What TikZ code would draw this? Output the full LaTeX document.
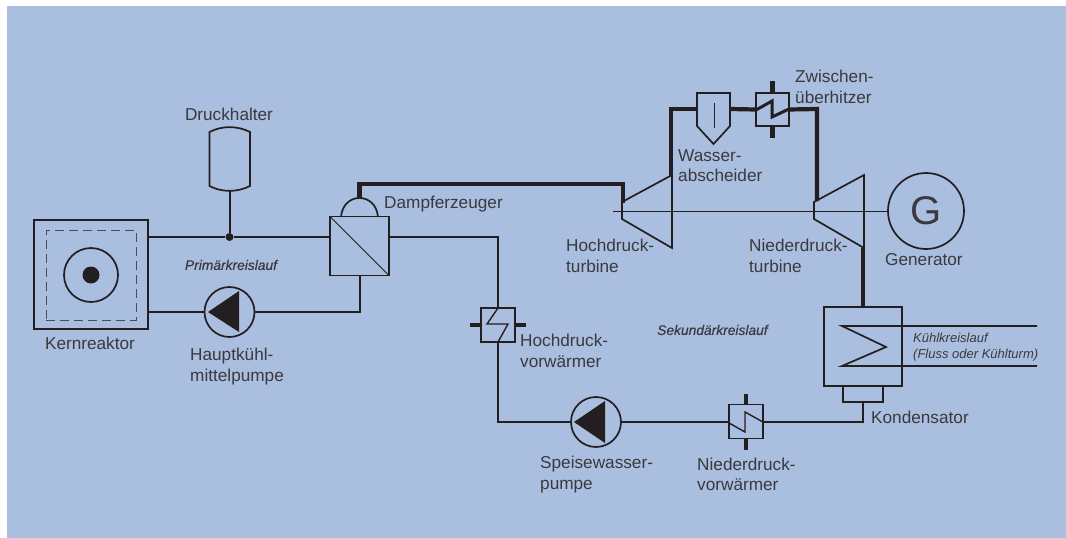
\documentclass[tikz,border=0pt]{standalone}
\usepackage{fontspec}
\setmainfont{Liberation Sans}
\definecolor{bgblue}{HTML}{AABEE0}
\definecolor{ink}{HTML}{231F20}
\definecolor{txt}{HTML}{3A3A3C}
\tikzset{
  line/.style={draw=ink,line width=1.7pt},
  heavy/.style={draw=ink,line width=4.2pt},
  fine/.style={draw=ink,line width=1pt},
  box/.style={draw=ink,line width=1.7pt,rectangle,inner sep=0pt,outer sep=0pt},
  disc/.style={draw=ink,line width=1.7pt,circle,inner sep=0pt,outer sep=0pt},
  lab/.style={text=txt,font=\fontsize{17.2}{20.6}\selectfont,align=left,anchor=west,inner sep=0pt},
  note/.style={text=txt,font=\fontsize{13}{16}\selectfont\itshape,align=left,anchor=west,inner sep=0pt},
  notebold/.style={note,font=\fontsize{13.8}{16}\selectfont\itshape\addfontfeature{FakeBold=0.3}},
}
\begin{document}
\begin{tikzpicture}[x=1pt,y=-1pt]
\useasboundingbox (0,0) rectangle (1066,538);
\fill[white] (0,0) rectangle (1066,538);
\fill[bgblue] (7,6) rectangle (1066,538);

% --- component nodes
\node[box,minimum width=114pt,minimum height=109pt] (reactor) at (91,274.5) {};
\node[box,draw=ink!80,line width=1pt,dash pattern=on 9pt off 5pt,minimum width=90pt,minimum height=90pt] (core) at (91,275) {};
\node[disc,minimum size=54pt] (coreRing) at (91,275) {};
\node[circle,fill=ink,inner sep=0pt,minimum size=17pt] (coreDot) at (91,275) {};
\node[circle,fill=ink,inner sep=0pt,minimum size=8pt] (junction) at (229.5,237) {};
\node[box,minimum size=59pt] (sg) at (359.5,246) {};
\node[disc,minimum size=50pt] (mainPump) at (229.5,312) {};
\node[disc,minimum size=50pt] (feedPump) at (596,422) {};
\node[box,minimum size=34pt] (hpHeater) at (498,325) {};
\node[box,minimum size=34pt] (lpHeater) at (746,421.5) {};
\node[box,minimum width=33pt,minimum height=33pt] (reheater) at (772.5,109.5) {};
\node[box,minimum width=78pt,minimum height=79pt] (condenser) at (863,346.5) {};
\node[box,minimum width=40pt,minimum height=16pt] (hotwell) at (863,394) {};
\node[disc,minimum size=76pt,font=\fontsize{40}{42}\selectfont,text=txt] (generator) at (926,211) {G};

% --- named ports
\coordinate (rTop) at (reactor.east |- junction);
\coordinate (rLow) at (reactor.east |- mainPump);
\coordinate (sgLeft) at (sg.west |- junction);
\coordinate (sgRight) at (sg.east |- junction);
\coordinate (domeL) at (341,217);
\coordinate (domeR) at (378,217);
\coordinate (domeTop) at (359.5,198);
\coordinate (phTop) at (229.5,191);
\coordinate (hpA) at (622,202);
\coordinate (hpB) at (672,175);
\coordinate (hpC) at (672,248);
\coordinate (hpD) at (622,219);
\coordinate (lpA) at (814,202);
\coordinate (lpB) at (864,175);
\coordinate (lpC) at (864,248);
\coordinate (lpD) at (814,219);
\coordinate (shaftStart) at (613,211);
\coordinate (sepL) at (697,109);
\coordinate (sepR) at (730,109);
\coordinate (coolA) at (1037,326);
\coordinate (coolB) at (1037,366);
\coordinate (sgFoot) at (360,275);
\coordinate (condTop) at (863,307);

% --- pressuriser vessel
\draw[line] (209.5,132) .. controls (222,125.5) and (237,125.5) .. (250,132)
  -- (250,186) .. controls (237,192.5) and (222,192.5) .. (209.5,186) -- cycle;

% --- water separator
\draw[line] (697,93) -- (730,93) -- (730,126) -- (713.5,144) -- (697,126) -- cycle;
\draw[fine] (714,103) -- (714,128);

% --- turbines
\draw[line] (hpA) -- (hpB) -- (hpC) -- (hpD) -- cycle;
\draw[line] (lpA) -- (lpB) -- (lpC) -- (lpD) -- cycle;
\draw[fine] (shaftStart) -- (generator.west);

% --- steam generator details
\draw[fine] (sg.north west) -- (sg.south east);
\draw[line] (domeL) .. controls (342,205) and (350,198) .. (domeTop) .. controls (369,198) and (377,205) .. (domeR);

% --- pump triangles
\fill[ink] (208,312) -- (239,291) -- (239,332) -- cycle;
\fill[ink] (574,422) -- (605,401) -- (605,443) -- cycle;

% --- primary circuit
\draw[line] (rTop) -- (junction) -- (sgLeft);
\draw[line,line width=2pt] (phTop) -- (junction);
\draw[line] (rLow) -- (mainPump.west);
\draw[line] (mainPump.east) -- (360,312) -- (sgFoot);

% --- secondary feed line
\draw[line] (sgRight) -- (498,237) -- (hpHeater.north);
\draw[line] (hpHeater.south) -- (498,422) -- (feedPump.west);
\draw[line] (feedPump.east) -- (lpHeater.west |- feedPump);
\draw[line] (lpHeater.east |- feedPump) -- (863,422) -- (hotwell.south);

% --- heater coils and stubs
\draw[line,line width=1.4pt] (hpHeater.north) -- (487,324) -- (508,324) -- (hpHeater.south);
\draw[heavy] (470,325) -- (hpHeater.west);
\draw[heavy] (hpHeater.east) -- (526,325);
\draw[line,line width=1.4pt] (729,423) -- (745,432) -- (745,412) -- (763,422);
\draw[heavy] (lpHeater.north) -- (746,394);
\draw[heavy] (lpHeater.south) -- (746,450);

% --- live steam
\draw[heavy] (domeTop) -- (359.5,184) -- (623,184) -- (623,203);
\draw[heavy] (671,176) -- (671,109) -- (sepL);
\draw[heavy] (sepR) -- (reheater.west);
\draw[heavy] (reheater.east) -- (817,109) -- (817,201);
\draw[heavy] (863,248) -- (condTop);
\draw[heavy,line width=3pt] (756,110) -- (772,101) -- (772,117) -- (789,109);
\draw[heavy] (reheater.north) -- (772.5,81);
\draw[heavy] (reheater.south) -- (772.5,138);

% --- cooling coil
\draw[line] (coolA) -- (842,326) -- (886,347) -- (842,366) -- (coolB);

% --- labels
\node[lab,anchor=center] (tDruck) at (229,114) {Druckhalter};
\node[lab,anchor=center] (tKern) at (90,343) {Kernreaktor};
\node[lab] (tHaupt) at (190,366.5) {Hauptkühl-\\mittelpumpe};
\node[lab] (tDampf) at (384,204) {Dampferzeuger};
\node[lab] (tHochT) at (566,256) {Hochdruck-\\turbine};
\node[lab] (tNiedT) at (749,256) {Niederdruck-\\turbine};
\node[lab] (tGen) at (885,260) {Generator};
\node[lab] (tWass) at (678,165.5) {Wasser-\\abscheider};
\node[lab] (tZwi) at (795,87) {Zwischen-\\überhitzer};
\node[lab] (tKond) at (871,417) {Kondensator};
\node[lab] (tHochV) at (520,351) {Hochdruck-\\vorwärmer};
\node[lab] (tSpeise) at (540,474.5) {Speisewasser-\\pumpe};
\node[lab] (tNiedV) at (697,474.5) {Niederdruck-\\vorwärmer};
\node[notebold,anchor=center] (tPrim) at (231,265) {Primärkreislauf};
\node[notebold] (tSek) at (657,330) {Sekundärkreislauf};
\node[note] (tKuehl) at (913,347) {Kühlkreislauf\\(Fluss oder Kühlturm)};
\end{tikzpicture}
\end{document}
